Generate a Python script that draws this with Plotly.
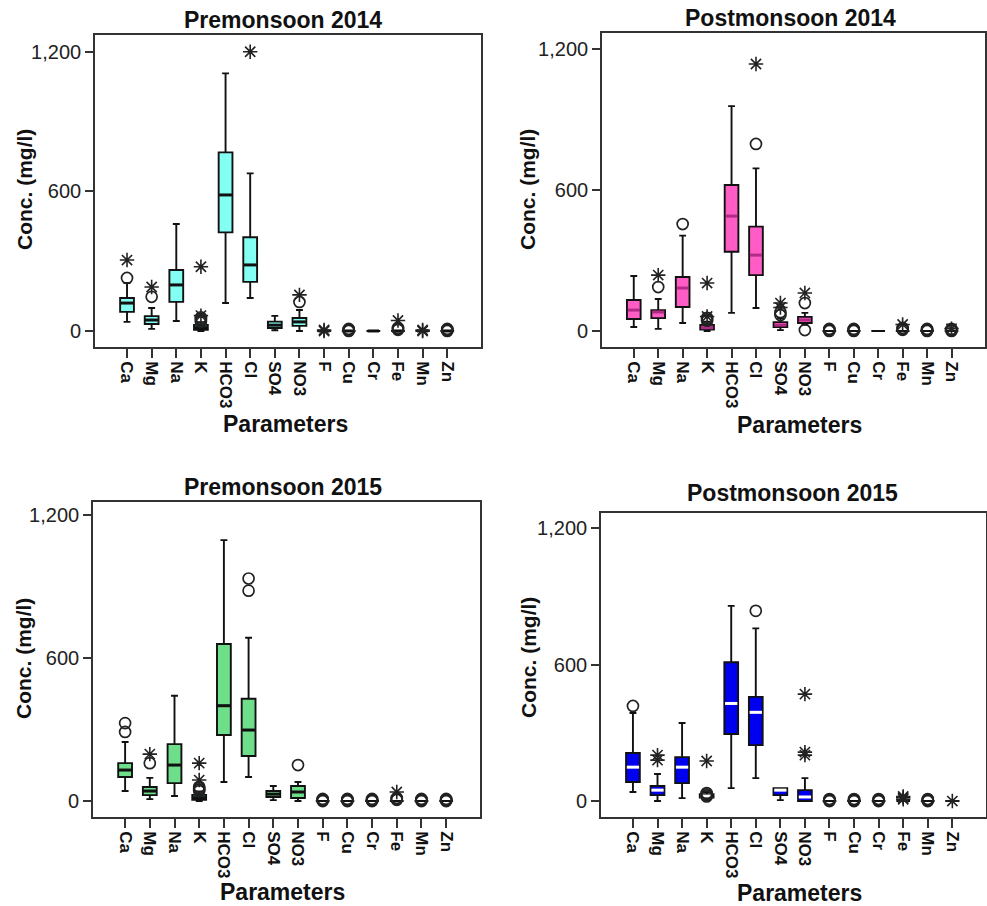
import plotly.graph_objects as go

categories = ["Ca", "Mg", "Na", "K", "HCO3", "Cl", "SO4", "NO3", "F", "Cu", "Cr", "Fe", "Mn", "Zn"]

# ---------- Premonsoon 2014 ----------
pre14_lo = [39, 9, 43, 0, 120, 142, 3, 0, 0, 0, 0, 0, 0, 0]
pre14_q1 = [82, 30, 125, 5, 424, 211, 13, 22, 0, 0, 0, 0, 0, 0]
pre14_med = [120, 47, 198, 14, 585, 284, 25, 39, 0, 0, 0, 0, 0, 0]
pre14_q3 = [142, 64, 262, 26, 768, 403, 40, 56, 0, 0, 0, 0, 0, 0]
pre14_hi = [206, 99, 460, 38, 1108, 678, 65, 90, 0, 0, 0, 0, 0, 0]
pre14_circ_cat = ["Ca", "Mg", "K", "K", "K", "K", "NO3", "Cu", "Cu", "Cu", "Cu", "Fe", "Fe", "Fe", "Zn", "Zn", "Zn", "Zn"]
pre14_circ_val = [228, 147, 40, 46, 52, 58, 125, 0, 3, 6, 9, 5, 9, 13, 0, 3, 6, 9]
pre14_star_cat = ["Ca", "Mg", "K", "K", "Cl", "NO3", "F", "F", "Fe", "Mn", "Mn"]
pre14_star_val = [305, 189, 66, 276, 1201, 155, 0, 4, 45, 0, 4]

# ---------- Postmonsoon 2014 ----------
post14_lo = [17, 9, 34, 0, 77, 98, 4, 26, 0, 0, 0, 0, 0, 0]
post14_q1 = [51, 55, 102, 6, 337, 238, 17, 34, 0, 0, 0, 0, 0, 0]
post14_med = [89, 81, 183, 14, 489, 323, 25, 47, 0, 0, 0, 0, 0, 0]
post14_q3 = [132, 89, 230, 26, 621, 444, 38, 60, 0, 0, 0, 0, 0, 0]
post14_hi = [234, 136, 406, 40, 957, 692, 55, 77, 0, 0, 0, 0, 0, 0]
post14_circ_cat = ["Mg", "Na", "K", "K", "K", "Cl", "SO4", "SO4", "NO3", "NO3",
                   "F", "F", "F", "F", "Cu", "Cu", "Cu", "Cu", "Fe", "Fe", "Fe",
                   "Mn", "Mn", "Mn", "Mn", "Zn", "Zn", "Zn", "Zn"]
post14_circ_val = [187, 455, 44, 50, 56, 796, 68, 80, 119, 4,
                   0, 3, 6, 9, 0, 3, 6, 9, 5, 9, 13,
                   0, 3, 6, 9, 0, 3, 6, 9]
post14_star_cat = ["Mg", "K", "K", "Cl", "SO4", "SO4", "NO3", "Fe", "Zn"]
post14_star_val = [238, 204, 62, 1136, 100, 119, 162, 28, 10]

# ---------- Premonsoon 2015 ----------
pre15_lo = [42, 8, 21, 0, 80, 101, 4, 0, 0, 0, 0, 0, 0, 0]
pre15_q1 = [101, 25, 75, 5, 277, 189, 17, 13, 0, 0, 0, 0, 0, 0]
pre15_med = [130, 42, 151, 14, 400, 298, 29, 38, 0, 0, 0, 0, 0, 0]
pre15_q3 = [159, 59, 239, 26, 659, 429, 42, 63, 0, 0, 0, 0, 0, 0]
pre15_hi = [248, 97, 442, 40, 1095, 685, 63, 80, 0, 0, 0, 0, 0, 0]
pre15_circ_cat = ["Ca", "Ca", "Mg", "K", "K", "K", "K", "Cl", "Cl", "NO3",
                  "F", "F", "F", "F", "Cu", "Cu", "Cu", "Cu", "Cr", "Cr", "Cr", "Cr",
                  "Fe", "Fe", "Fe", "Mn", "Mn", "Mn", "Mn", "Zn", "Zn", "Zn", "Zn"]
pre15_circ_val = [290, 327, 159, 42, 48, 54, 60, 883, 934, 151,
                  0, 3, 6, 9, 0, 3, 6, 9, 0, 3, 6, 9,
                  5, 9, 13, 0, 3, 6, 9, 0, 3, 6, 9]
pre15_star_cat = ["Mg", "K", "K", "Fe"]
pre15_star_val = [197, 88, 159, 38]

# ---------- Postmonsoon 2015 ----------
post15_lo = [40, 0, 13, 8, 57, 101, 4, 0, 0, 0, 0, 0, 0, 0]
post15_q1 = [84, 26, 79, 15, 295, 246, 26, 0, 0, 0, 0, 0, 0, 0]
post15_med = [149, 48, 149, 22, 429, 390, 48, 18, 0, 0, 0, 0, 0, 0]
post15_q3 = [211, 66, 193, 30, 610, 458, 57, 48, 0, 0, 0, 0, 0, 0]
post15_hi = [387, 119, 343, 40, 858, 759, 57, 101, 0, 0, 0, 0, 0, 0]
post15_circ_cat = ["Ca", "K", "K", "K", "K", "Cl", "F", "F", "F", "F", "Cu", "Cu", "Cu", "Cu",
                   "Cr", "Cr", "Cr", "Cr", "Mn", "Mn", "Mn", "Mn"]
post15_circ_val = [418, 20, 25, 30, 35, 836, 0, 3, 6, 9, 0, 3, 6, 9, 0, 3, 6, 9, 0, 3, 6, 9]
post15_star_cat = ["Mg", "Mg", "K", "NO3", "NO3", "NO3", "Fe", "Fe", "Fe", "Zn"]
post15_star_val = [180, 202, 176, 202, 215, 470, 8, 15, 20, 0]

titles = ["Premonsoon 2014", "Postmonsoon 2014", "Premonsoon 2015", "Postmonsoon 2015"]
y_title = "Conc. (mg/l)"
x_title = "Parameters"
y_ticks = [0, 600, 1200]

# ---------- styling ----------
W, H = 987, 906
FONT = "Liberation Sans, Arial, sans-serif"
fills = ["#84FFF4", "#FF5CC6", "#6EDE8A", "#0000F0"]
median_colors = ["#111111", "#B02C86", "#111111", "#FFFFFF"]
BOXW = 0.56

# pixel frames (left, right, top, bottom) and y-ranges
frames = [(95, 481, 35, 347), (602, 985, 33, 347), (93, 480, 502, 817), (601, 986, 513, 817)]
yranges = [[-69, 1273], [-68, 1268], [-67, 1255], [-70, 1266]]
xrange_ = [-1.3, 14.37]
title_pos = [(283, 20), (790, 18), (283, 487), (792, 493)]
ytitle_pos = [(25, 190), (528, 190), (23, 659), (528, 658)]
xtitle_pos = [(285, 424), (799, 425), (282, 892), (799, 893)]

seasons = [
    (pre14_lo, pre14_q1, pre14_med, pre14_q3, pre14_hi, pre14_circ_cat, pre14_circ_val, pre14_star_cat, pre14_star_val),
    (post14_lo, post14_q1, post14_med, post14_q3, post14_hi, post14_circ_cat, post14_circ_val, post14_star_cat, post14_star_val),
    (pre15_lo, pre15_q1, pre15_med, pre15_q3, pre15_hi, pre15_circ_cat, pre15_circ_val, pre15_star_cat, pre15_star_val),
    (post15_lo, post15_q1, post15_med, post15_q3, post15_hi, post15_circ_cat, post15_circ_val, post15_star_cat, post15_star_val),
]

idx = {c: i for i, c in enumerate(categories)}
positions = list(range(len(categories)))

fig = go.Figure()
annotations = []
layout_axes = {}

for k, (lo, q1, med, q3, hi, ccat, cval, scat, sval) in enumerate(seasons):
    n = "" if k == 0 else str(k + 1)
    xa, ya = "x" + n, "y" + n
    fig.add_trace(go.Box(
        x=positions, q1=q1, median=med, q3=q3, lowerfence=lo, upperfence=hi,
        width=BOXW, whiskerwidth=0.5, boxpoints=False,
        fillcolor=fills[k], line=dict(color="#111111", width=1.9),
        xaxis=xa, yaxis=ya, showlegend=False, hoverinfo="skip"))
    # median overlay
    mx, my = [], []
    for i, m in enumerate(med):
        if q3[i] - q1[i] > 0:
            mx += [i - BOXW / 2 + 0.03, i + BOXW / 2 - 0.03, None]
            my += [m, m, None]
        elif k == 0:
            mx += [i - BOXW / 2 + 0.05, i + BOXW / 2 - 0.05, None]
            my += [m, m, None]
    fig.add_trace(go.Scatter(x=mx, y=my, mode="lines",
                             line=dict(color=median_colors[k], width=3),
                             xaxis=xa, yaxis=ya, showlegend=False, hoverinfo="skip"))
    # outliers
    fig.add_trace(go.Scatter(
        x=[idx[c] for c in ccat], y=cval, mode="markers",
        marker=dict(symbol="circle-open", size=11, color="#222222", line=dict(width=1.7)),
        xaxis=xa, yaxis=ya, showlegend=False, hoverinfo="skip"))
    fig.add_trace(go.Scatter(
        x=[idx[c] for c in scat], y=sval, mode="markers",
        marker=dict(symbol="asterisk-open", size=12, color="#222222", line=dict(width=1.6, color="#222222")),
        xaxis=xa, yaxis=ya, showlegend=False, hoverinfo="skip"))

    l, r, t, b = frames[k]
    xkey = "xaxis" + n
    ykey = "yaxis" + n
    layout_axes[xkey] = dict(
        domain=[l / W, r / W], anchor=ya, range=xrange_,
        tickmode="array", tickvals=positions, ticktext=categories, tickangle=90,
        tickfont=dict(family=FONT, size=17, color="#111111", weight="bold"),
        showline=True, mirror=True, linecolor="#333333", linewidth=1.7,
        ticks="outside", ticklen=9, tickwidth=1.7, tickcolor="#333333",
        showgrid=False, zeroline=False)
    layout_axes[ykey] = dict(
        domain=[1 - b / H, 1 - t / H], anchor=xa, range=yranges[k],
        tickmode="array", tickvals=y_ticks, tickformat=",",
        tickfont=dict(family=FONT, size=20, color="#222222"),
        showline=True, mirror=True, linecolor="#333333", linewidth=1.7,
        ticks="outside", ticklen=8, tickwidth=1.7, tickcolor="#333333",
        showgrid=False, zeroline=False)

    tx, ty = title_pos[k]
    annotations.append(dict(text=titles[k], x=tx / W, y=1 - ty / H, xref="paper", yref="paper",
                            xanchor="center", yanchor="middle", showarrow=False,
                            font=dict(family=FONT, size=23, color="#111111", weight="bold")))
    yx, yy = ytitle_pos[k]
    annotations.append(dict(text=y_title, x=yx / W, y=1 - yy / H, xref="paper", yref="paper",
                            xanchor="center", yanchor="middle", showarrow=False, textangle=-90,
                            font=dict(family=FONT, size=21, color="#111111", weight="bold")))
    px_, py_ = xtitle_pos[k]
    annotations.append(dict(text=x_title, x=px_ / W, y=1 - py_ / H, xref="paper", yref="paper",
                            xanchor="center", yanchor="middle", showarrow=False,
                            font=dict(family=FONT, size=23, color="#111111", weight="bold")))

fig.update_layout(
    width=W, height=H, margin=dict(l=0, r=0, t=0, b=0),
    paper_bgcolor="white", plot_bgcolor="white",
    showlegend=False, annotations=annotations, **layout_axes)

fig.write_html("out.html")
